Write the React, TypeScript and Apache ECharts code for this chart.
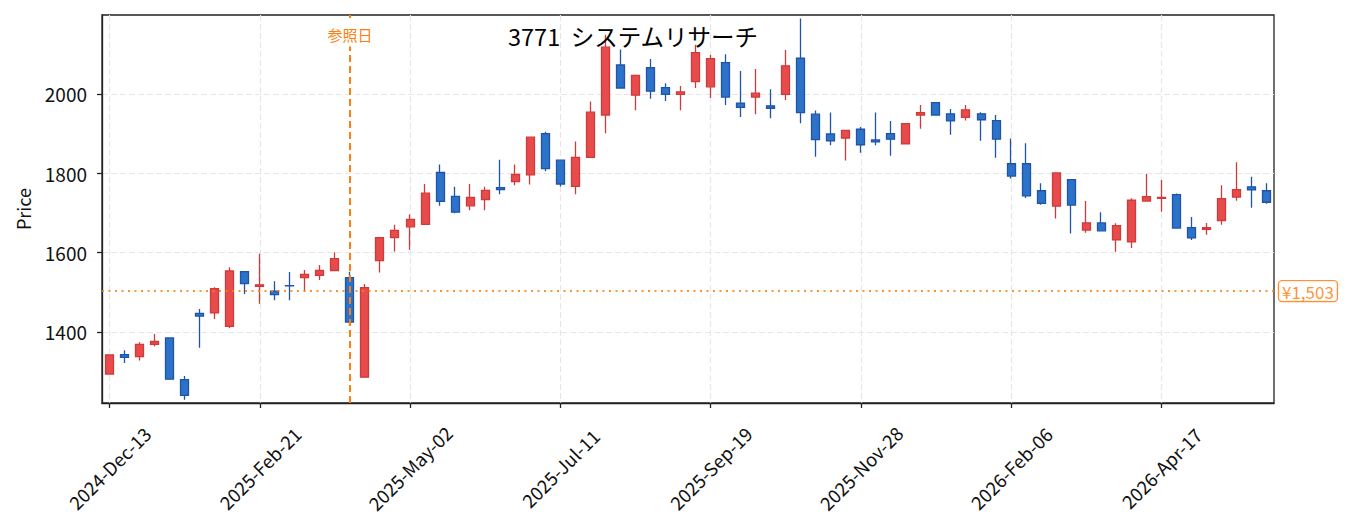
import React, { useEffect, useRef } from "react";
import * as echarts from "echarts";

const TITLE = "3771  システムリサーチ";
const MONTHS = ["Jan", "Feb", "Mar", "Apr", "May", "Jun", "Jul", "Aug", "Sep", "Oct", "Nov", "Dec"];
const START_UTC = Date.UTC(2024, 11, 13);
const WEEK_COUNT = 78;
const dates: string[] = Array.from({ length: WEEK_COUNT }, (_, i) => {
  const d = new Date(START_UTC + i * 7 * 86400000);
  return `${d.getUTCFullYear()}-${MONTHS[d.getUTCMonth()]}-${String(d.getUTCDate()).padStart(2, "0")}`;
});

const opens = [
  1294, 1343, 1338, 1369, 1385, 1280, 1447, 1448, 1414, 1552,
  1515, 1503, 1517, 1537, 1543, 1555, 1537, 1286, 1580, 1638,
  1665, 1671, 1802, 1742, 1718, 1734, 1764, 1779, 1796, 1900,
  1833, 1767, 1840, 1947, 2073, 1997, 2066, 2016, 1999, 2031,
  2018, 2079, 1977, 1992, 1970, 1999, 2090, 1949, 1899, 1889,
  1911, 1884, 1900, 1874, 1947, 1978, 1950, 1941, 1950, 1933,
  1824, 1824, 1756, 1717, 1784, 1657, 1675, 1632, 1627, 1730,
  1737, 1746, 1663, 1659, 1681, 1740, 1766, 1756,
];
const closes = [
  1342, 1336, 1369, 1376, 1281, 1240, 1440, 1509, 1554, 1522,
  1519, 1494, 1516, 1545, 1555, 1585, 1425, 1512, 1638, 1656,
  1684, 1750, 1729, 1702, 1739, 1757, 1759, 1797, 1891, 1812,
  1773, 1840, 1954, 2118, 2015, 2047, 2007, 1999, 2005, 2104,
  2089, 1992, 1966, 2002, 1964, 2071, 1953, 1885, 1882, 1908,
  1872, 1879, 1886, 1925, 1953, 1947, 1932, 1960, 1935, 1886,
  1793, 1743, 1724, 1801, 1720, 1675, 1655, 1668, 1732, 1741,
  1739, 1662, 1637, 1663, 1736, 1759, 1758, 1727,
];
const lows = [
  1293, 1322, 1328, 1364, 1280, 1229, 1360, 1433, 1410, 1496,
  1471, 1480, 1480, 1502, 1531, 1555, 1415, 1286, 1550, 1603,
  1607, 1670, 1718, 1699, 1707, 1707, 1747, 1770, 1772, 1805,
  1767, 1747, 1839, 1901, 2014, 1959, 1988, 1982, 1959, 2015,
  1990, 1972, 1942, 1949, 1939, 1985, 1926, 1842, 1871, 1832,
  1852, 1871, 1844, 1873, 1912, 1946, 1897, 1933, 1882, 1839,
  1787, 1738, 1721, 1686, 1648, 1650, 1655, 1602, 1612, 1729,
  1703, 1661, 1632, 1645, 1670, 1731, 1713, 1723,
];
const highs = [
  1343, 1354, 1374, 1395, 1386, 1289, 1458, 1513, 1563, 1553,
  1597, 1528, 1551, 1556, 1569, 1601, 1552, 1521, 1639, 1670,
  1696, 1773, 1822, 1766, 1773, 1766, 1834, 1822, 1891, 1905,
  1834, 1880, 1981, 2149, 2112, 2048, 2088, 2027, 2020, 2124,
  2098, 2100, 2058, 2063, 2012, 2111, 2190, 1958, 1953, 1909,
  1917, 1953, 1932, 1926, 1972, 1979, 1962, 1972, 1954, 1947,
  1888, 1876, 1775, 1802, 1785, 1730, 1702, 1674, 1737, 1798,
  1783, 1749, 1690, 1675, 1770, 1828, 1791, 1775,
];

const Y_MIN = 1221;
const Y_MAX = 2199;
const Y_TICKS = [1400, 1600, 1800, 2000];
const REF_INDEX = 16;
const REF_LABEL = "参照日";
const REF_PRICE = 1503;
const REF_PRICE_LABEL = "¥1,503";
const REF_LABEL_Y = 2151;

const FONT = "Noto Sans CJK JP";
const ORANGE = "#ff7f0e";

export default function App() {
  const ref = useRef<HTMLDivElement>(null);

  useEffect(() => {
    document.body.style.margin = "0";
    if (!ref.current) return;
    const chart = echarts.init(ref.current, undefined, { renderer: "svg" });
    const candleData = dates.map((_, i) => [opens[i], closes[i], lows[i], highs[i]]);
    const gridLine = { show: true, lineStyle: { color: "#e6e6e6", type: [6, 3], width: 1.2 } };

    chart.setOption({
      animation: false,
      backgroundColor: "#ffffff",
      textStyle: { fontFamily: FONT },
      title: {
        text: TITLE,
        left: 508,
        top: 24,
        padding: 0,
        textStyle: { fontFamily: FONT, fontSize: 23.5, fontWeight: "normal", color: "#000" },
      },
      grid: {
        left: 102,
        top: 15,
        width: 1172,
        height: 388,
        show: true,
        borderColor: "#222",
        borderWidth: 1.3,
        backgroundColor: "transparent",
        outerBoundsMode: "none",
      },
      xAxis: {
        type: "category",
        data: dates,
        boundaryGap: true,
        axisLine: { show: true, lineStyle: { color: "#222", width: 1.3 } },
        axisTick: { show: true, interval: 9, alignWithLabel: true, length: 5, lineStyle: { color: "#222", width: 1.3 } },
        axisLabel: {
          interval: 9,
          rotate: 45,
          align: "center",
          verticalAlign: "middle",
          margin: 65,
          fontFamily: FONT,
          fontSize: 18.5,
          color: "#111",
        },
        splitLine: { ...gridLine, interval: 9, alignWithLabel: true },
      },
      yAxis: {
        type: "value",
        min: Y_MIN,
        max: Y_MAX,
        scale: true,
        name: "Price",
        nameLocation: "middle",
        nameGap: 70,
        nameRotate: 90,
        nameTextStyle: { fontFamily: FONT, fontSize: 18, color: "#111" },
        axisLine: { show: true, lineStyle: { color: "#222", width: 1.3 } },
        axisTick: { show: true, length: 5, customValues: Y_TICKS, lineStyle: { color: "#222", width: 1.3 } },
        axisLabel: {
          customValues: Y_TICKS,
          margin: 15,
          fontFamily: FONT,
          fontSize: 19,
          color: "#111",
          formatter: (v: number) => String(v),
        },
        splitLine: gridLine,
      },
      series: [
        {
          type: "candlestick",
          data: candleData,
          barWidth: 8.5,
          itemStyle: {
            color: "#e84b4b",
            color0: "#2d72c9",
            borderColor: "#cf3a3a",
            borderColor0: "#1e55a8",
            borderWidth: 1.3,
          },
          markLine: {
            silent: true,
            symbol: "none",
            animation: false,
            data: [
              {
                xAxis: dates[REF_INDEX],
                lineStyle: { color: ORANGE, type: [7, 4], width: 2 },
                label: { show: false },
              },
              {
                yAxis: REF_PRICE,
                lineStyle: { color: ORANGE, type: [2, 4.5], width: 2, opacity: 0.85 },
                label: {
                  show: true,
                  position: "end",
                  distance: 5,
                  formatter: REF_PRICE_LABEL,
                  fontFamily: FONT,
                  fontSize: 17,
                  color: ORANGE,
                  backgroundColor: "#fff",
                  borderColor: ORANGE,
                  borderWidth: 1.2,
                  borderRadius: 3,
                  padding: [2, 3, 1, 3],
                },
              },
            ],
          },
          markPoint: {
            silent: true,
            symbol: "rect",
            symbolSize: 0,
            animation: false,
            data: [
              {
                coord: [dates[REF_INDEX], REF_LABEL_Y],
                label: {
                  show: true,
                  position: "inside",
                  formatter: REF_LABEL,
                  fontFamily: FONT,
                  fontSize: 15,
                  color: ORANGE,
                  backgroundColor: "#fff",
                  padding: [5, 1, 5, 1],
                },
              },
            ],
          },
        },
      ],
    });

    return () => chart.dispose();
  }, []);

  return <div ref={ref} style={{ width: 1353, height: 531 }} />;
}
